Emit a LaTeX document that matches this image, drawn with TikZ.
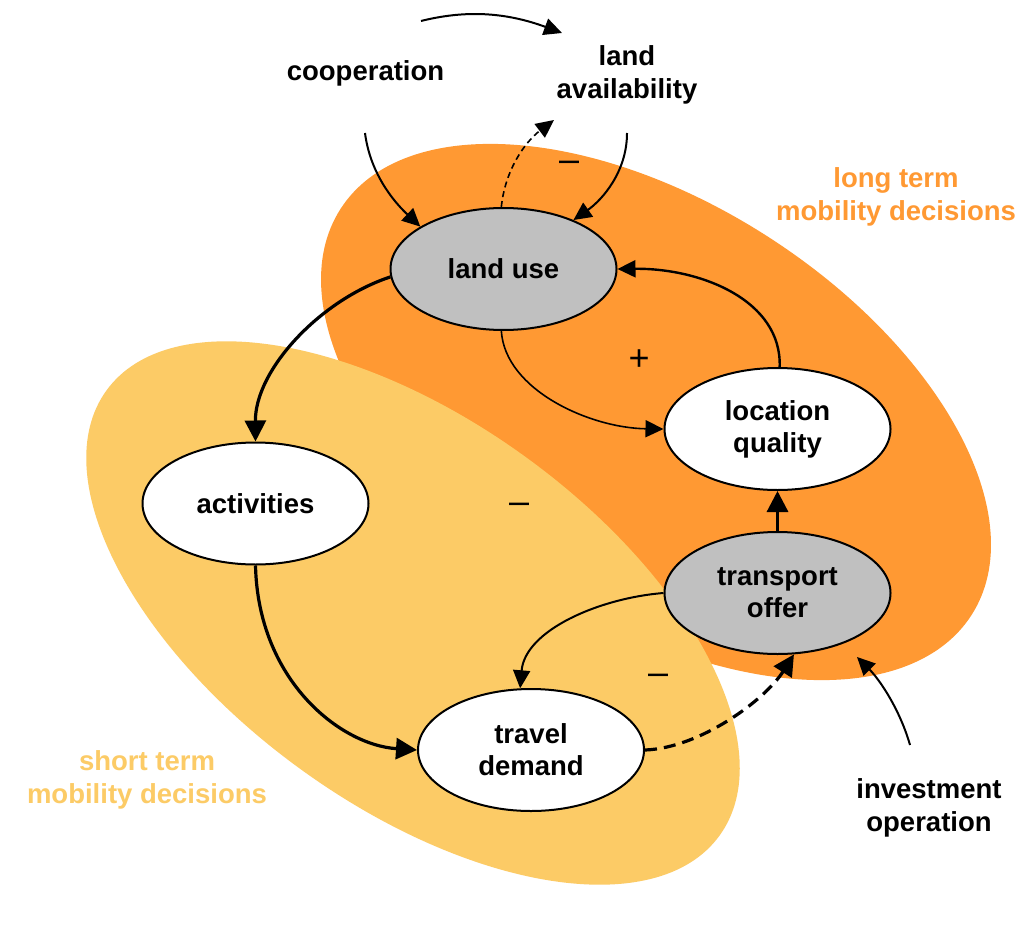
\documentclass[tikz,border=0pt]{standalone}
\usepackage{fontspec}
\setmainfont{Liberation Sans}
\usetikzlibrary{arrows.meta,shapes.geometric}
\definecolor{longc}{HTML}{FF9933}
\definecolor{shortc}{HTML}{FCCB66}
\definecolor{nodegray}{HTML}{C0C0C0}
\begin{document}
\begin{tikzpicture}[x=0.5pt,y=-0.5pt,
  box/.style={ellipse, draw, line width=1pt, minimum width=113pt, minimum height=61pt,
    inner sep=0pt, align=center, font=\fontsize{13.75}{16}\selectfont\bfseries},
  gnode/.style={box, fill=nodegray},
  wnode/.style={box, fill=white},
  lbl/.style={inner sep=0pt, align=center, font=\fontsize{13.75}{16.5}\selectfont\bfseries},
  sign/.style={inner sep=0pt, font=\fontsize{18}{20}\selectfont},
  arr/.style={-{Triangle[length=9pt,width=8.5pt]}, line width=1pt},
  thickarr/.style={-{Triangle[length=10.5pt,width=10.5pt]}, line width=1.6pt}
]
\useasboundingbox (0,0) rectangle (1036,930);
\fill[white] (0,0) rectangle (1036,930);

% regions
\fill[longc, rotate around={-32.8:(656,412)}] (656,412) ellipse [x radius=187.6pt, y radius=104pt];
\fill[shortc, rotate around={-36:(413,613)}] (413,613) ellipse [x radius=189.4pt, y radius=96.2pt];

% nodes
\node[gnode] (lu) at (503.5,269) {land use};
\node[wnode] (lq) at (777.5,429) {location\\quality};
\node[wnode] (act) at (255.5,503.5) {activities};
\node[gnode] (to) at (777.5,593) {transport\\offer};
\node[wnode] (td) at (531,750) {travel\\demand};

% labels
\node[lbl] (coop) at (365.5,73) {cooperation};
\node[lbl] (landav) at (627,75) {land\\availability};
\node[lbl, text=longc] (longlbl) at (896,197) {long term\\mobility decisions};
\node[lbl, text=shortc] (shortlbl) at (147,780) {short term\\mobility decisions};
\node[lbl] (invest) at (929,808) {investment\\operation};

% signs
\node[sign] (s1) at (569,166) {–};
\node[sign] (s2) at (639,360) {+};
\node[sign] (s3) at (519,508) {–};
\node[sign] (s4) at (658,679) {–};

% free connector ends
\coordinate (ta1) at (421,21);
\coordinate (ta2) at (562,33);
\coordinate (c1) at (365,133);
\coordinate (la1) at (627,133);
\coordinate (dashend) at (554,120);
\coordinate (inv1) at (910,745);
\coordinate (inv2) at (857,657);

% connectors
\draw[arr] (ta1) .. controls (465,10) and (505,12) .. (ta2);
\draw[arr] (c1) .. controls (370,172) and (392,200) .. (lu.153);
\draw[arr] (la1) .. controls (627,172) and (602,200) .. (lu.35);
\draw[arr, line width=0.8pt, dash pattern=on 3pt off 2pt] (lu.92) .. controls (505,170) and (525,142) .. (dashend);
\draw[thickarr] (lu.184) .. controls (320,300) and (255,370) .. (act.90);
\draw[arr, line width=0.8pt] (lu.268) .. controls (505,390) and (590,428) .. (lq.180);
\draw[arr, line width=1.2pt] (lq.88) .. controls (782,300) and (700,268) .. (lu.0);
\draw[thickarr] (to.north) -- (lq.south);
\draw[thickarr] (act.270) .. controls (258,680) and (340,745) .. (td.180);
\draw[arr] (to.180) .. controls (600,598) and (525,630) .. (td.100);
\draw[thickarr, dash pattern=on 6pt off 3.5pt] (td.0) .. controls (700,748) and (765,700) .. (to.-75);
\draw[arr] (inv1) .. controls (900,710) and (880,680) .. (inv2);
\end{tikzpicture}
\end{document}
